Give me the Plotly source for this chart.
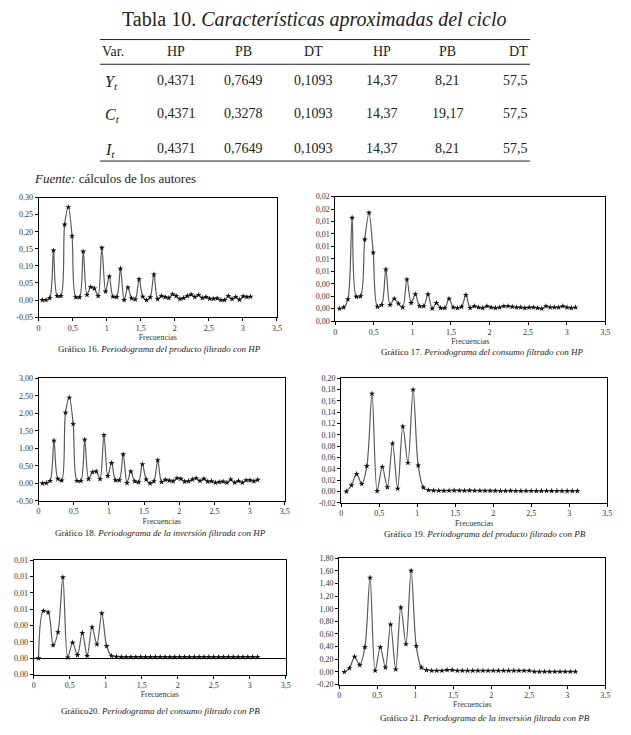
import plotly.graph_objects as go

W, H = 631, 735
FONT = "Liberation Serif"

# ---------------- data ----------------
title_plain = "Tabla 10."
title_italic = "Características aproximadas del ciclo"
table_header = ["Var.", "HP", "PB", "DT", "HP", "PB", "DT"]
table_vars = ["Y", "C", "I"]
table_values = [
    ["0,4371", "0,7649", "0,1093", "14,37", "8,21", "57,5"],
    ["0,4371", "0,3278", "0,1093", "14,37", "19,17", "57,5"],
    ["0,4371", "0,7649", "0,1093", "14,37", "8,21", "57,5"],
]
source_label = "Fuente:"
source_text = "cálculos de los autores"

freq_hp = [0.0546, 0.1093, 0.1639, 0.2185, 0.2732, 0.3278, 0.3825, 0.4371, 0.4917, 0.5464,
           0.6010, 0.6556, 0.7103, 0.7649, 0.8195, 0.8742, 0.9288, 0.9835, 1.0381, 1.0927,
           1.1474, 1.2020, 1.2566, 1.3113, 1.3659, 1.4205, 1.4752, 1.5298, 1.5845, 1.6391,
           1.6937, 1.7484, 1.8030, 1.8576, 1.9123, 1.9669, 2.0215, 2.0762, 2.1308, 2.1855,
           2.2401, 2.2947, 2.3494, 2.4040, 2.4586, 2.5133, 2.5679, 2.6225, 2.6772, 2.7318,
           2.7865, 2.8411, 2.8957, 2.9504, 3.0050, 3.0596, 3.1143]

freq_pb = [0.0676, 0.1351, 0.2027, 0.2702, 0.3378, 0.4054, 0.4729, 0.5405, 0.6080, 0.6756,
           0.7432, 0.8107, 0.8783, 0.9458, 1.0134, 1.0810, 1.1485, 1.2161, 1.2836, 1.3512,
           1.4188, 1.4863, 1.5539, 1.6214, 1.6890, 1.7566, 1.8241, 1.8917, 1.9592, 2.0268,
           2.0944, 2.1619, 2.2295, 2.2971, 2.3646, 2.4322, 2.4997, 2.5673, 2.6349, 2.7024,
           2.7700, 2.8375, 2.9051, 2.9727, 3.0402, 3.1078]

# Grafico 16: producto HP
prod_hp = [0.000, 0.000, 0.006, 0.145, 0.012, 0.012, 0.221, 0.272, 0.187, 0.008,
           0.008, 0.142, 0.015, 0.038, 0.034, 0.012, 0.153, 0.025, 0.069, 0.010,
           0.009, 0.092, 0.000, 0.037, 0.005, 0.002, 0.061, 0.010, 0.000, 0.008,
           0.075, 0.003, 0.012, 0.009, 0.006, 0.017, 0.012, 0.003, 0.006, 0.012,
           0.016, 0.009, 0.015, 0.006, 0.009, 0.004, 0.004, 0.005, 0.000, 0.000,
           0.012, 0.003, 0.009, 0.001, 0.011, 0.009, 0.010]

# Grafico 17: consumo HP
cons_hp = [0.0000, 0.0002, 0.0015, 0.0146, 0.0019, 0.0020, 0.0111, 0.0154, 0.0090, 0.0003,
           0.0006, 0.0063, 0.0006, 0.0016, 0.0008, 0.0002, 0.0047, 0.0009, 0.0023, 0.0004,
           0.0004, 0.0023, 0.0000, 0.0009, 0.0001, 0.0001, 0.0016, 0.0002, 0.0001, 0.0003,
           0.0022, 0.0001, 0.0004, 0.0002, 0.0001, 0.0004, 0.0002, 0.0001, 0.0002, 0.0004,
           0.0004, 0.0003, 0.0002, 0.0002, 0.0001, 0.0002, 0.0002, 0.0001, 0.0000, 0.0004,
           0.0002, 0.0002, 0.0002, 0.0004, 0.0002, 0.0001, 0.0002]

# Grafico 18: inversion HP
inv_hp = [0.00, 0.01, 0.07, 1.22, 0.13, 0.08, 2.02, 2.45, 1.70, 0.07,
          0.07, 1.25, 0.12, 0.32, 0.34, 0.12, 1.38, 0.21, 0.58, 0.09,
          0.09, 0.83, 0.01, 0.34, 0.06, 0.03, 0.55, 0.11, 0.00, 0.06,
          0.66, 0.04, 0.10, 0.08, 0.06, 0.15, 0.13, 0.05, 0.06, 0.11,
          0.15, 0.07, 0.13, 0.05, 0.06, 0.02, 0.04, 0.05, 0.02, 0.11,
          0.02, 0.07, 0.02, 0.09, 0.09, 0.06, 0.10]

# Grafico 19: producto PB
prod_pb = [0.000, 0.011, 0.031, 0.0135, 0.045, 0.173, 0.001, 0.0435, 0.0076, 0.085,
           0.005, 0.115, 0.0506, 0.180, 0.046, 0.007, 0.0024, 0.0018, 0.0015, 0.0012,
           0.0016, 0.0018, 0.0017, 0.0016, 0.0017, 0.0016, 0.0015, 0.0013, 0.0012, 0.0012,
           0.0011, 0.0011, 0.0012, 0.0011, 0.0010, 0.0011, 0.0011, 0.0010, 0.0010, 0.0011,
           0.0010, 0.0010, 0.0010, 0.0010, 0.0010, 0.0010]

# Grafico 20: consumo PB
cons_pb = [0.0000, 0.0058, 0.0056, 0.0016, 0.0032, 0.0099, 0.0001, 0.0019, 0.0004, 0.0031,
           0.0003, 0.0038, 0.0017, 0.0055, 0.0015, 0.0003, 0.0002, 0.00015, 0.00015, 0.00015,
           0.00015, 0.00015, 0.00015, 0.00015, 0.00015, 0.00015, 0.00015, 0.00015, 0.00015, 0.00015,
           0.00015, 0.00015, 0.00015, 0.00015, 0.00015, 0.00015, 0.00015, 0.00015, 0.00015, 0.00015,
           0.00015, 0.00015, 0.00015, 0.00015, 0.00015, 0.00015]

# Grafico 21: inversion PB
inv_pb = [0.00, 0.06, 0.24, 0.11, 0.39, 1.49, 0.02, 0.39, 0.07, 0.75,
          0.04, 1.02, 0.44, 1.60, 0.41, 0.07, 0.03, 0.02, 0.02, 0.02,
          0.03, 0.03, 0.02, 0.02, 0.02, 0.02, 0.02, 0.02, 0.02, 0.02,
          0.02, 0.02, 0.02, 0.02, 0.02, 0.02, 0.02, 0.005, 0.005, 0.005,
          0.005, 0.005, 0.005, 0.005, 0.005, 0.005]

x_tickvals = [0, 0.5, 1, 1.5, 2, 2.5, 3, 3.5]
x_ticktext = ["0", "0,5", "1", "1,5", "2", "2,5", "3", "3,5"]
x_title = "Frecuencias"

yt16 = [-0.05, 0.0, 0.05, 0.10, 0.15, 0.20, 0.25, 0.30]
yl16 = ["-0,05", "0,00", "0,05", "0,10", "0,15", "0,20", "0,25", "0,30"]
yt17 = [-0.002, 0.0, 0.002, 0.004, 0.006, 0.008, 0.010, 0.012, 0.014, 0.016, 0.018]
yl17 = ["0,00", "0,00", "0,00", "0,00", "0,01", "0,01", "0,01", "0,01", "0,01", "0,02", "0,02"]
yt18 = [-0.5, 0.0, 0.5, 1.0, 1.5, 2.0, 2.5, 3.0]
yl18 = ["-0,50", "0,00", "0,50", "1,00", "1,50", "2,00", "2,50", "3,00"]
yt19 = [-0.02, 0.0, 0.02, 0.04, 0.06, 0.08, 0.10, 0.12, 0.14, 0.16, 0.18, 0.20]
yl19 = ["-0,02", "0,00", "0,02", "0,04", "0,06", "0,08", "0,10", "0,12", "0,14", "0,16", "0,18", "0,20"]
yt20 = [-0.002, 0.0, 0.002, 0.004, 0.006, 0.008, 0.010, 0.012]
yl20 = ["0,00", "0,00", "0,00", "0,00", "0,01", "0,01", "0,01", "0,01"]
yt21 = [-0.2, 0.0, 0.2, 0.4, 0.6, 0.8, 1.0, 1.2, 1.4, 1.6, 1.8]
yl21 = ["-0,20", "0,00", "0,20", "0,40", "0,60", "0,80", "1,00", "1,20", "1,40", "1,60", "1,80"]

captions = [
    ("Gráfico 16.", "Periodograma del producto filtrado con HP"),
    ("Gráfico 17.", "Periodograma del consumo filtrado con HP"),
    ("Gráfico 18.", "Periodograma de la inversión filtrada con HP"),
    ("Gráfico 19.", "Periodograma del producto filtrado con PB"),
    ("Gráfico20.", "Periodograma del consumo filtrado con PB"),
    ("Gráfico 21.", "Periodograma de la inversión filtrada con PB"),
]

# ---------------- layout geometry (pixels) ----------------
charts = [
    dict(x=freq_hp, y=prod_hp, yr=[-0.05, 0.30], yt=yt16, yl=yl16, box=(37, 278, 196, 317),
         cap=(159, 349), zl=False),
    dict(x=freq_hp, y=cons_hp, yr=[-0.002, 0.018], yt=yt17, yl=yl17, box=(337, 610, 195, 321),
         cap=(485, 352), zl=False),
    dict(x=freq_hp, y=inv_hp, yr=[-0.5, 3.0], yt=yt18, yl=yl18, box=(37, 286, 379, 503),
         cap=(160, 536), zl=False),
    dict(x=freq_pb, y=prod_pb, yr=[-0.02, 0.20], yt=yt19, yl=yl19, box=(343, 612, 379, 505),
         cap=(488, 537), zl=False),
    dict(x=freq_pb, y=cons_pb, yr=[-0.002, 0.012], yt=yt20, yl=yl20, box=(32, 287, 563, 679),
         cap=(160, 716), zl=True),
    dict(x=freq_pb, y=inv_pb, yr=[-0.2, 1.8], yt=yt21, yl=yl21, box=(341, 610, 561, 689),
         cap=(488, 723), zl=False),
]


def px(x):
    return x / W


def py(y):
    return 1 - y / H


fig = go.Figure()
layout = dict(
    width=W, height=H, margin=dict(l=0, r=0, t=0, b=0),
    paper_bgcolor="white", plot_bgcolor="white", showlegend=False,
    font=dict(family=FONT, color="#222"),
)
annotations = []
shapes = []

for i, c in enumerate(charts, start=1):
    xname = "x" if i == 1 else f"x{i}"
    yname = "y" if i == 1 else f"y{i}"
    xkey = "xaxis" if i == 1 else f"xaxis{i}"
    ykey = "yaxis" if i == 1 else f"yaxis{i}"
    l, r, t, b = c["box"]
    fig.add_trace(go.Scatter(
        x=c["x"], y=c["y"], xaxis=xname, yaxis=yname, mode="lines+markers",
        line=dict(color="#5a5a5a", width=1.2, shape="spline", smoothing=0.9),
        marker=dict(symbol="star", size=4.5, color="#111"),
        hoverinfo="x+y",
    ))
    common = dict(showline=True, linecolor="black", linewidth=1, mirror=True,
                  ticks="outside", ticklen=3, tickcolor="black", showgrid=False,
                  tickfont=dict(family=FONT, size=8, color="#333"))
    layout[xkey] = dict(domain=[px(l), px(r)], range=[0, 3.5], tickvals=x_tickvals,
                        ticktext=x_ticktext, anchor=yname, zeroline=False,
                        title=dict(text=x_title, standoff=2,
                                   font=dict(family=FONT, size=8, color="#333")),
                        **common)
    layout[ykey] = dict(domain=[py(b), py(t)], range=c["yr"], tickvals=c["yt"],
                        ticktext=c["yl"], anchor=xname,
                        zeroline=c["zl"], zerolinecolor="black", zerolinewidth=1, **common)
    cp, ci = captions[i - 1]
    annotations.append(dict(x=px(c["cap"][0]), y=py(c["cap"][1]), xref="paper", yref="paper",
                            text=f"{cp} <i>{ci}</i>", showarrow=False, xanchor="center",
                            yanchor="middle", font=dict(family=FONT, size=9, color="#222")))

# ---------------- table ----------------
annotations.append(dict(x=px(316), y=py(16), xref="paper", yref="paper",
                        text=f"{title_plain} <i>{title_italic}</i>", showarrow=False,
                        xanchor="center", yanchor="middle",
                        font=dict(family=FONT, size=20, color="#222")))

for yline in (36, 61, 159):
    shapes.append(dict(type="line", xref="paper", yref="paper", x0=px(99), x1=px(534),
                       y0=py(yline), y1=py(yline), line=dict(color="#222", width=1)))

col_x = [176, 244, 315, 384, 451, 534]
header_y = 48
row_y = [77, 111, 146]

annotations.append(dict(x=px(99), y=py(header_y), xref="paper", yref="paper",
                        text=table_header[0], showarrow=False, xanchor="left", yanchor="middle",
                        font=dict(family=FONT, size=14, color="#222")))
for j, h in enumerate(table_header[1:]):
    anchor = "right" if j == 5 else "center"
    annotations.append(dict(x=px(col_x[j]), y=py(header_y), xref="paper", yref="paper",
                            text=h, showarrow=False, xanchor=anchor, yanchor="middle",
                            font=dict(family=FONT, size=14, color="#222")))

for r, (var, vals) in enumerate(zip(table_vars, table_values)):
    annotations.append(dict(x=px(102), y=py(row_y[r] + 2), xref="paper", yref="paper",
                            text=f"<i>{var}<sub>t</sub></i>", showarrow=False,
                            xanchor="left", yanchor="middle",
                            font=dict(family=FONT, size=16, color="#222")))
    for j, v in enumerate(vals):
        anchor = "right" if j == 5 else "center"
        annotations.append(dict(x=px(col_x[j]), y=py(row_y[r]), xref="paper", yref="paper",
                                text=v, showarrow=False, xanchor=anchor, yanchor="middle",
                                font=dict(family=FONT, size=14, color="#222")))

annotations.append(dict(x=px(30), y=py(177), xref="paper", yref="paper",
                        text=f"<i>{source_label}</i> {source_text}", showarrow=False,
                        xanchor="left", yanchor="middle",
                        font=dict(family=FONT, size=13, color="#222")))

layout["annotations"] = annotations
layout["shapes"] = shapes
fig.update_layout(**layout)
fig.write_html(
    "out.html",
    config={"displayModeBar": False},
    post_script="document.body.style.margin='0';document.body.style.overflow='hidden';",
)
